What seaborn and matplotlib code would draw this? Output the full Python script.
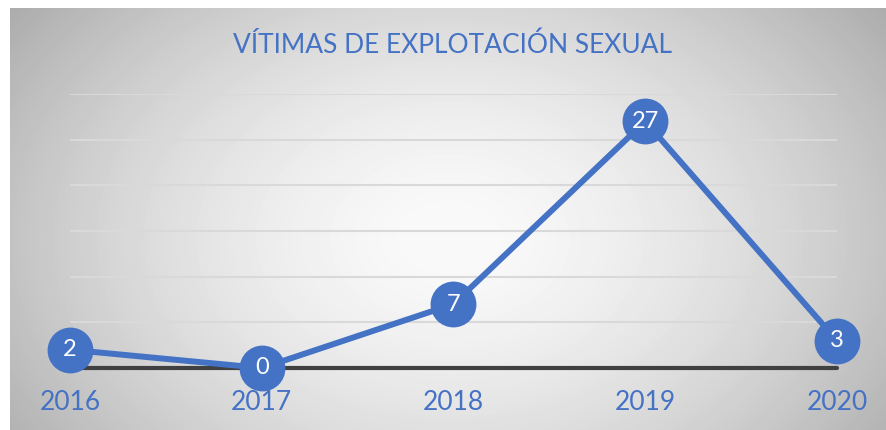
import numpy as np
import pandas as pd
import matplotlib
matplotlib.use("Agg")
import matplotlib.pyplot as plt
import seaborn as sns

years = ["2016", "2017", "2018", "2019", "2020"]
victims = [2, 0, 7, 27, 3]

BLUE = "#4472C4"

sns.set_style("white")
plt.rcParams["font.family"] = ["Lato", "DejaVu Sans"]

fig = plt.figure(figsize=(8.87, 4.3), dpi=100)

# radial gray gradient background (chart frame starts a bit in from the top/left)
bg = fig.add_axes([10 / 887, 0, 877 / 887, 422 / 430])
bg.set_axis_off()
yy, xx = np.mgrid[0:422, 0:877]
cx, cy = 440, 230
r = np.sqrt(((xx - cx) / 470) ** 2 + ((yy - cy) / 330) ** 2)
shade = 0.98 - 0.24 * np.clip(r, 0, 1.3) ** 1.6
bg.imshow(shade, cmap="gray", vmin=0, vmax=1, aspect="auto", interpolation="bilinear")

ax = fig.add_axes([70 / 887, 62 / 430, 767 / 887, 274 / 430])
ax.patch.set_alpha(0)

df = pd.DataFrame({"pos": range(len(years)), "victims": victims})
sns.lineplot(data=df, x="pos", y="victims", ax=ax, color=BLUE, linewidth=4.3,
             marker="o", markersize=33, markeredgewidth=0, clip_on=False, zorder=4)

for i, v in enumerate(victims):
    ax.text(i, v, str(v), color="white", ha="center", va="center",
            fontsize=17, zorder=6, clip_on=False)

ax.set_xlim(0, len(years) - 1)
ax.set_ylim(0, 30)
ax.set_yticks(range(0, 31, 5))
ax.yaxis.grid(True, color="#d9d9d9", linewidth=1.5)
ax.xaxis.grid(False)
ax.axhline(0, color="#404040", linewidth=3, zorder=3, clip_on=False)
for s in ax.spines.values():
    s.set_visible(False)
ax.set_yticklabels([])
ax.tick_params(left=False, bottom=False)
ax.set_xticks(range(len(years)))
ax.set_xticklabels(years, color=BLUE, fontsize=19)
ax.tick_params(axis="x", pad=12)
ax.set_xlabel("")
ax.set_ylabel("")

fig.text(453 / 887, 1 - 45 / 430, "VÍTIMAS DE EXPLOTACIÓN SEXUAL", color=BLUE,
         fontsize=19, ha="center", va="center")

fig.savefig("out.png", dpi=100)
